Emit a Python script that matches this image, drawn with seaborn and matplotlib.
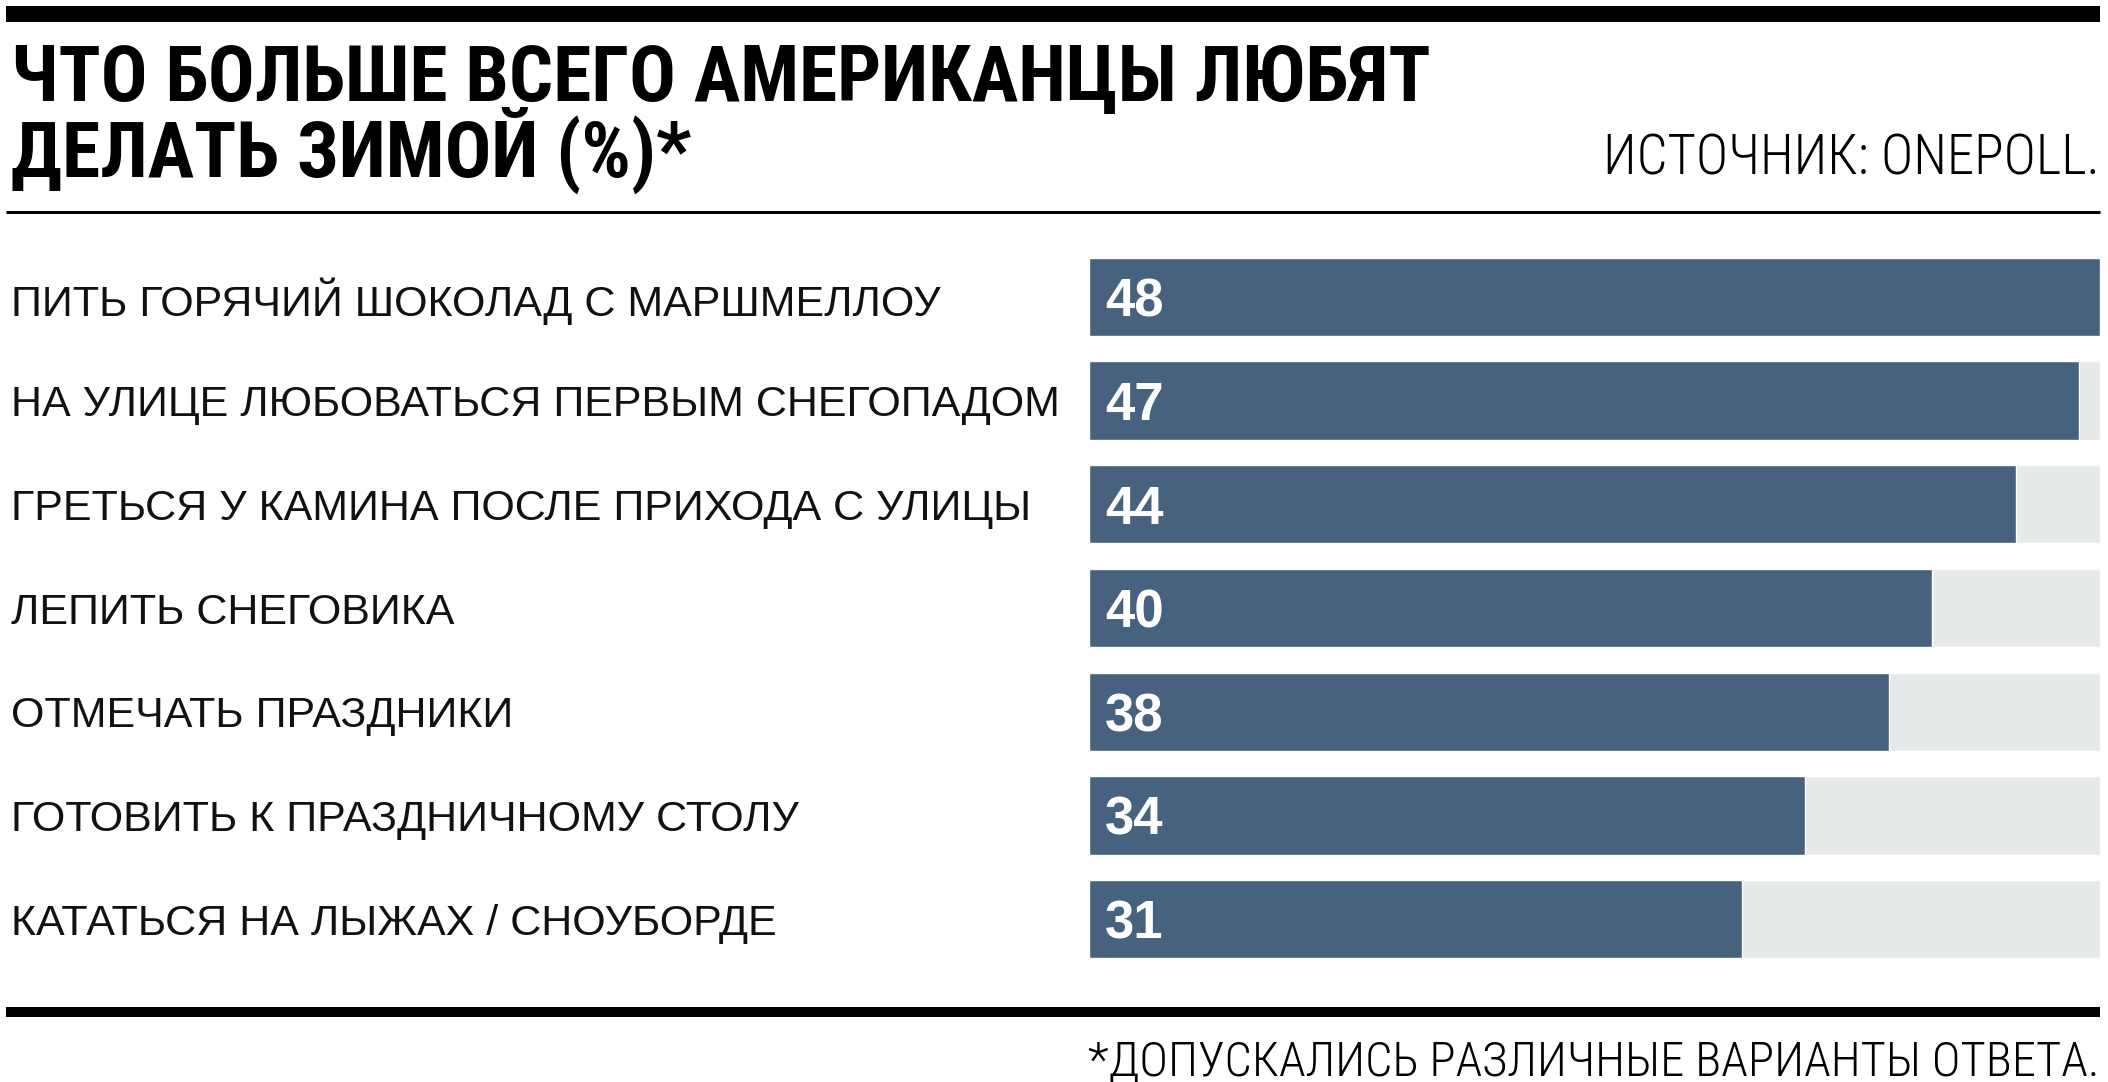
import matplotlib
matplotlib.use("Agg")
import os
import matplotlib.pyplot as plt
import matplotlib.font_manager as fm
from matplotlib.font_manager import FontProperties
from matplotlib.transforms import blended_transform_factory
from matplotlib.lines import Line2D
import seaborn as sns
import pandas as pd

categories = [
    "ПИТЬ ГОРЯЧИЙ ШОКОЛАД С МАРШМЕЛЛОУ",
    "НА УЛИЦЕ ЛЮБОВАТЬСЯ ПЕРВЫМ СНЕГОПАДОМ",
    "ГРЕТЬСЯ У КАМИНА ПОСЛЕ ПРИХОДА С УЛИЦЫ",
    "ЛЕПИТЬ СНЕГОВИКА",
    "ОТМЕЧАТЬ ПРАЗДНИКИ",
    "ГОТОВИТЬ К ПРАЗДНИЧНОМУ СТОЛУ",
    "КАТАТЬСЯ НА ЛЫЖАХ / СНОУБОРДЕ",
]
values = [48, 47, 44, 40, 38, 34, 31]
title_lines = ["ЧТО БОЛЬШЕ ВСЕГО АМЕРИКАНЦЫ ЛЮБЯТ", "ДЕЛАТЬ ЗИМОЙ (%)*"]
source_text = "ИСТОЧНИК: ONEPOLL."
footnote_text = "*ДОПУСКАЛИСЬ РАЗЛИЧНЫЕ ВАРИАНТЫ ОТВЕТА."

sns.set_theme(style="white")
plt.rcParams["font.family"] = ["Liberation Sans", "DejaVu Sans"]

paths = {os.path.basename(f.fname): f.fname for f in fm.fontManager.ttflist}


def fprop(candidates, size, fallback_family="DejaVu Sans", weight="normal"):
    for c in candidates:
        if c in paths:
            return FontProperties(fname=paths[c], size=size)
    return FontProperties(family=fallback_family, size=size, weight=weight)


W, H = 2108, 1082
fig = plt.figure(figsize=(W / 100, H / 100), dpi=100)
fig.patch.set_facecolor("white")
renderer = fig.canvas.get_renderer()


def fit(txt, target_px, k=1.0):
    fp = txt.get_fontproperties()
    w = txt.get_window_extent(renderer).width
    if w > 0:
        txt.set_fontsize(fp.get_size_in_points() * target_px / w * k)


BLUE = "#46627E"
GRAY = "#E6E9EA"

df = pd.DataFrame({"cat": categories, "val": values})
df["bg"] = max(values)

ax = fig.add_axes([1089 / W, 1 - 971 / H, (2100 - 1089) / W, (971 - 245) / H])
sns.barplot(data=df, y="cat", x="bg", color=GRAY, width=0.754, ax=ax, orient="h", saturation=1)
sns.barplot(data=df, y="cat", x="val", color=BLUE, width=0.754, ax=ax, orient="h", saturation=1)
ax.set_xlim(0, max(values))
ax.set_ylim(len(categories) - 0.5, -0.5)
ax.axis("off")

tr = blended_transform_factory(fig.transFigure, ax.transData)
for i, (c, v) in enumerate(zip(categories, values)):
    ax.text(11 / W, i, c, transform=tr, ha="left", va="center_baseline",
            fontsize=31, color="#111111", family=["Liberation Sans", "DejaVu Sans"])
    ax.annotate(str(v), xy=(0, i), xytext=(16, 0), textcoords="offset pixels",
                ha="left", va="center_baseline", fontsize=38, fontweight="bold",
                color="white", family=["Liberation Sans", "DejaVu Sans"])


def hline(y, lw):
    fig.add_artist(Line2D([6 / W, 2100 / W], [1 - y / H, 1 - y / H], transform=fig.transFigure,
                          color="black", linewidth=lw * 72 / 100, solid_capstyle="butt"))


hline(14, 16)
hline(212, 3)
hline(1012, 10)

bold_c = ["RobotoCondensed-Bold.ttf", "PT_Sans-Narrow-Web-Bold.ttf", "DejaVuSansCondensed-Bold.ttf"]
light_c = ["RobotoCondensed-Light.ttf", "RobotoCondensed-Regular.ttf", "PT_Sans-Narrow-Web-Regular.ttf",
           "DejaVuSansCondensed.ttf"]

t1 = fig.text(11 / W, 1 - 101 / H, title_lines[0], ha="left", va="baseline",
              fontproperties=fprop(bold_c, 50, weight="bold"), color="black")
fit(t1, 1497, 0.95)
t2 = fig.text(11 / W, 1 - 177 / H, title_lines[1], ha="left", va="baseline",
              fontproperties=fprop(bold_c, 50, weight="bold"), color="black")
t2.set_fontsize(t1.get_fontsize())
s = fig.text(2100 / W, 1 - 175 / H, source_text, ha="right", va="baseline",
             fontproperties=fprop(light_c, 36), color="black")
fit(s, 540, 0.92)
f = fig.text(2100 / W, 1 - 1075 / H, footnote_text, ha="right", va="baseline",
             fontproperties=fprop(light_c, 36), color="black")
fit(f, 1065, 0.95)

fig.savefig("out.png", dpi=100, facecolor="white")
